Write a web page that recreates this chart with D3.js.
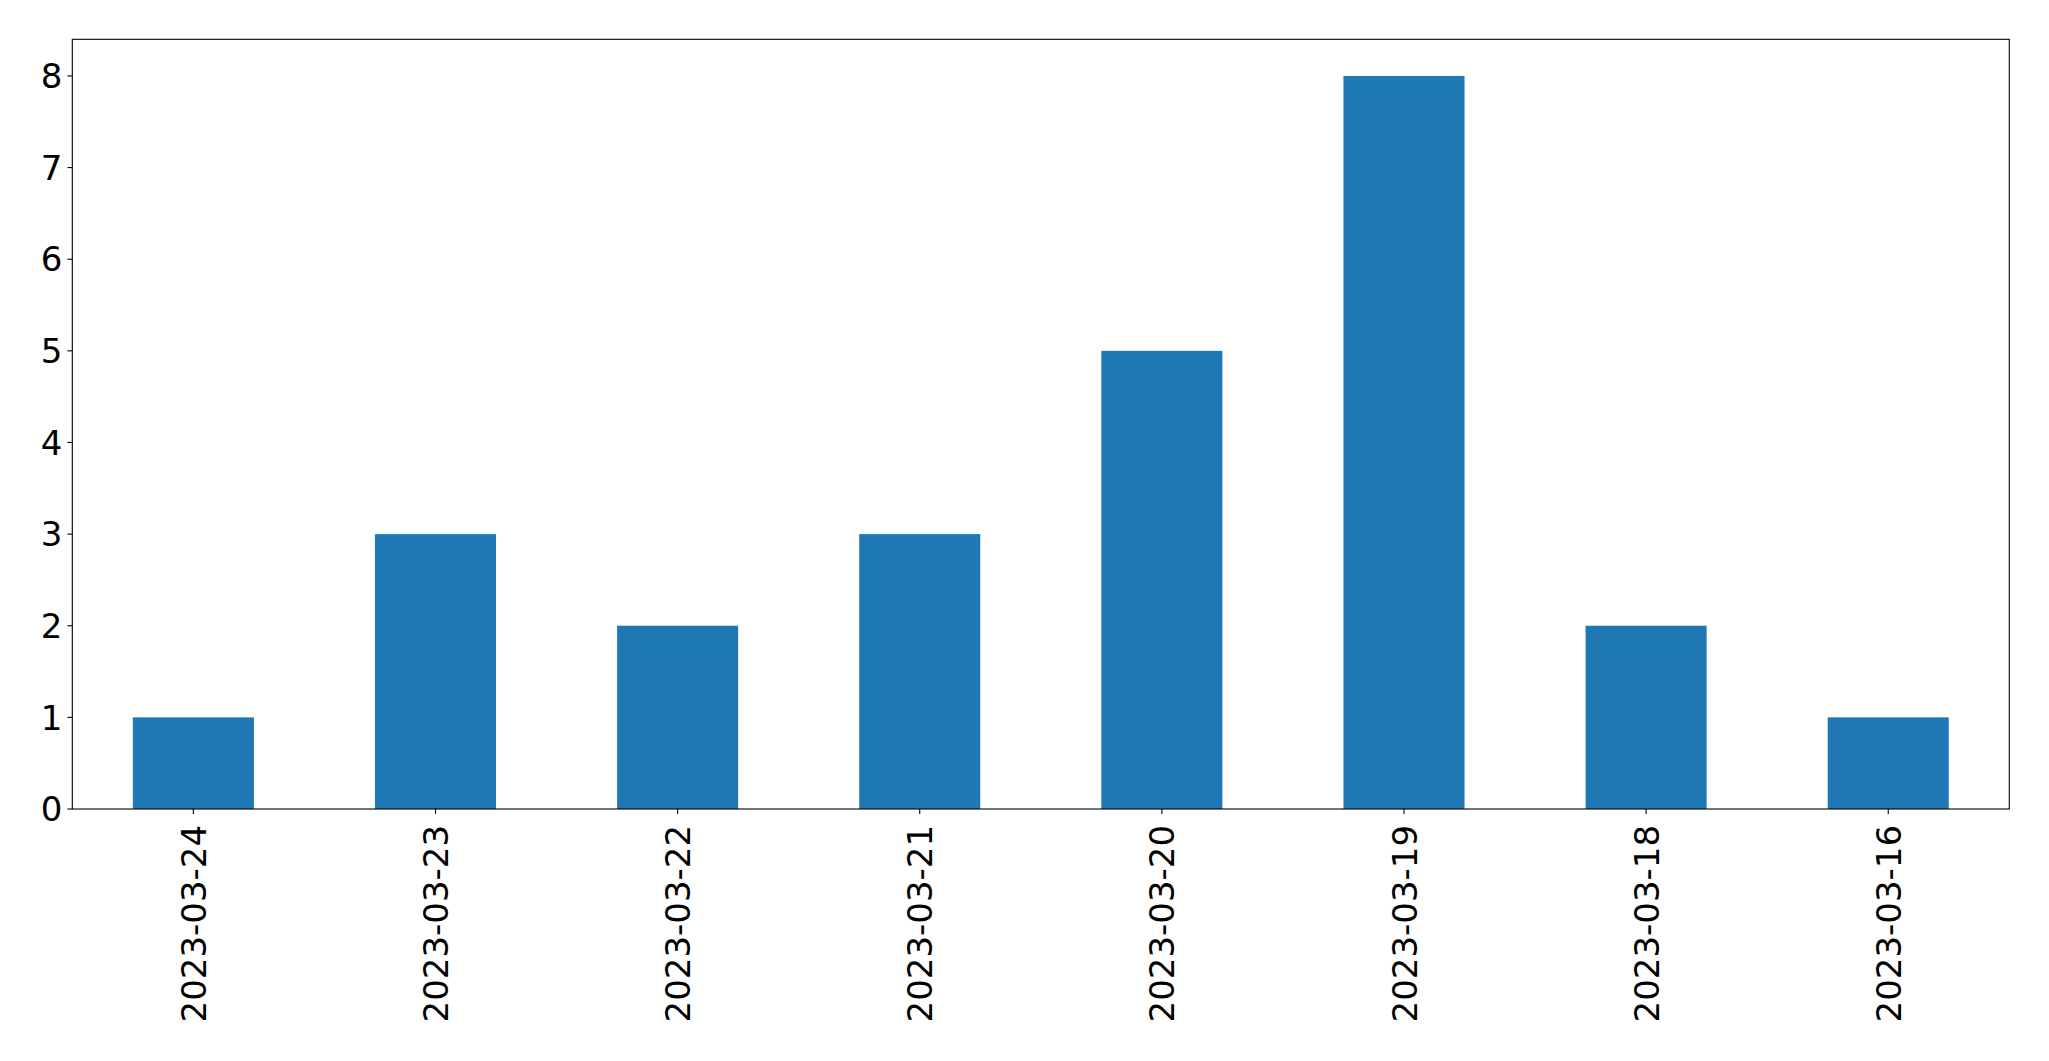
<!DOCTYPE html>
<html>
<head>
<meta charset="utf-8">
<script src="https://cdn.jsdelivr.net/npm/d3@7"></script>
<style>
  html, body { margin: 0; padding: 0; background: #fff; }
  svg { display: block; }
  text { font-family: "DejaVu Sans", sans-serif; fill: #000; }
</style>
</head>
<body>
<svg></svg>
<script>
const dates = ['2023-03-24', '2023-03-23', '2023-03-22', '2023-03-21',
               '2023-03-20', '2023-03-19', '2023-03-18', '2023-03-16'];
const counts = [1, 3, 2, 3, 5, 8, 2, 1];
const yTicks = [0, 1, 2, 3, 4, 5, 6, 7, 8];

const width = 2049;
const height = 1061;
const margin = {top: 39.3, right: 39.7, bottom: 252, left: 72.3};
const innerWidth = width - margin.left - margin.right;
const innerHeight = height - margin.top - margin.bottom;
const fontSize = 34;
const tickLen = 4.9;

const svg = d3.select('svg')
    .attr('width', width)
    .attr('height', height);

const g = svg.append('g')
    .attr('transform', `translate(${margin.left},${margin.top})`);

// pandas-style: category i sits at i, limits -0.5 .. n-0.5
const x = d3.scaleLinear()
    .domain([-0.5, dates.length - 0.5])
    .range([0, innerWidth]);

const y = d3.scaleLinear()
    .domain([0, 8.4])
    .range([innerHeight, 0]);

const barW = x(0.25) - x(-0.25);

g.selectAll('rect.bar').data(counts)
    .enter().append('rect')
    .attr('class', 'bar')
    .attr('x', (d, i) => x(i) - barW / 2)
    .attr('y', d => y(d))
    .attr('width', barW)
    .attr('height', d => y(0) - y(d))
    .attr('fill', '#1f77b4');

// y axis ticks + labels
const yAxis = g.append('g');
yAxis.selectAll('line').data(yTicks)
    .enter().append('line')
    .attr('x1', -tickLen).attr('x2', 0)
    .attr('y1', d => y(d)).attr('y2', d => y(d))
    .attr('stroke', '#000').attr('stroke-width', 1.1);
yAxis.selectAll('text').data(yTicks)
    .enter().append('text')
    .attr('x', -tickLen - 5)
    .attr('y', d => y(d))
    .attr('dy', '0.36em')
    .attr('text-anchor', 'end')
    .attr('font-size', fontSize)
    .text(d => d);

// x axis ticks + rotated labels
const xAxis = g.append('g')
    .attr('transform', `translate(0,${innerHeight})`);
xAxis.selectAll('line').data(dates)
    .enter().append('line')
    .attr('x1', (d, i) => x(i)).attr('x2', (d, i) => x(i))
    .attr('y1', 0).attr('y2', tickLen)
    .attr('stroke', '#000').attr('stroke-width', 1.1);
xAxis.selectAll('text').data(dates)
    .enter().append('text')
    .attr('transform', (d, i) => `translate(${x(i)},${tickLen + 11}) rotate(-90)`)
    .attr('dy', '0.37em')
    .attr('text-anchor', 'end')
    .attr('font-size', fontSize)
    .text(d => d);

// frame
g.append('rect')
    .attr('width', innerWidth)
    .attr('height', innerHeight)
    .attr('fill', 'none')
    .attr('stroke', '#000')
    .attr('stroke-width', 1.1);
</script>
</body>
</html>
